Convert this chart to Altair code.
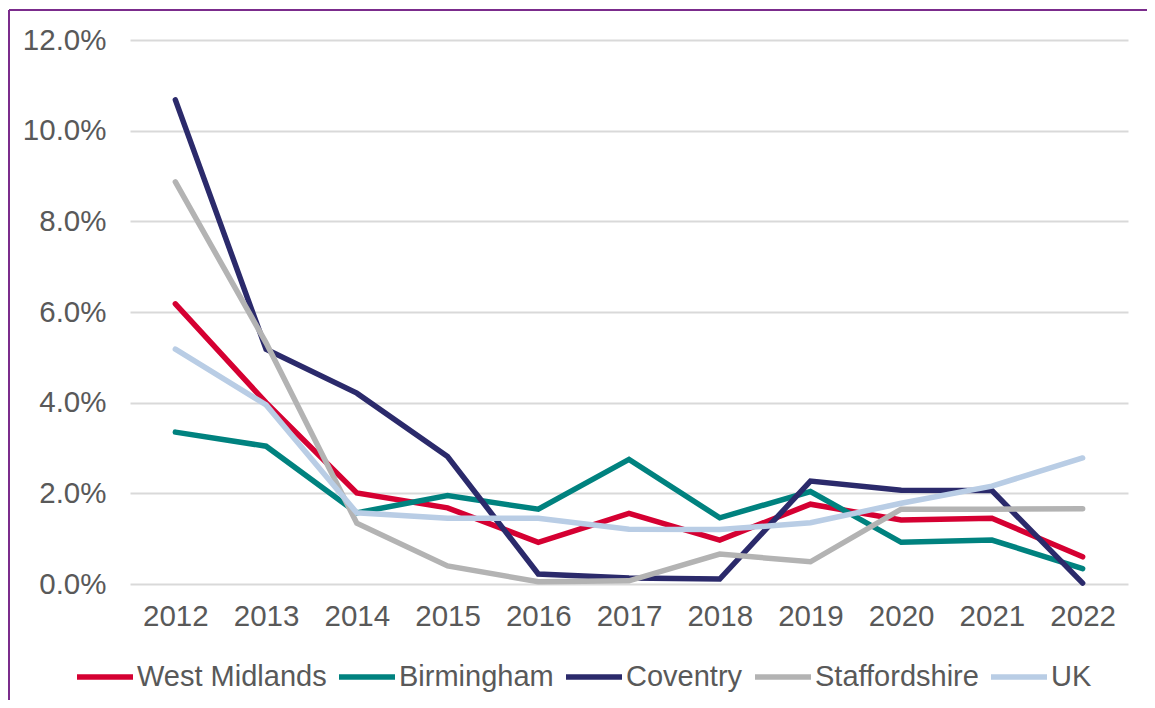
import altair as alt
import pandas as pd

years = [str(y) for y in range(2012, 2023)]
series_names = ["West Midlands", "Birmingham", "Coventry", "Staffordshire", "UK"]
series_colors = ["#D50032", "#00827F", "#2B2A6B", "#B3B3B3", "#B9CDE5"]
west_midlands = [6.18, 4.00, 2.01, 1.68, 0.92, 1.56, 0.97, 1.76, 1.41, 1.45, 0.60]
birmingham = [3.35, 3.04, 1.57, 1.95, 1.65, 2.75, 1.46, 2.04, 0.92, 0.97, 0.34]
coventry = [10.68, 5.18, 4.21, 2.81, 0.22, 0.13, 0.11, 2.27, 2.07, 2.06, 0.02]
staffordshire = [8.87, 5.32, 1.34, 0.40, 0.05, 0.07, 0.66, 0.49, 1.65, 1.65, 1.66]
uk = [5.18, 3.95, 1.57, 1.45, 1.45, 1.21, 1.20, 1.35, 1.78, 2.16, 2.78]
y_ticks = [0, 0.02, 0.04, 0.06, 0.08, 0.10, 0.12]

rows = []
for name, vals in zip(series_names, [west_midlands, birmingham, coventry, staffordshire, uk]):
    for yr, v in zip(years, vals):
        rows.append({"Year": yr, "Series": name, "Value": v / 100})
df = pd.DataFrame(rows)

FONT = "Liberation Sans"
LABEL = "#595959"
FS = 29.5
LFS = 29

lines = alt.Chart(df).mark_line(strokeWidth=5.5, strokeCap="round").encode(
    x=alt.X("Year:N", sort=years, title=None,
            scale=alt.Scale(type="point", padding=0.5),
            axis=alt.Axis(labelAngle=0, labelFontSize=FS, labelColor=LABEL, labelFont=FONT,
                          ticks=False, tickSize=0, domain=False, grid=False, labelPadding=18)),
    y=alt.Y("Value:Q", title=None,
            scale=alt.Scale(domain=[0, 0.12], nice=False),
            axis=alt.Axis(values=y_ticks, format=".1%", labelFontSize=FS, labelColor=LABEL,
                          labelFont=FONT, ticks=False, tickSize=0, domain=False,
                          gridColor="#D9D9D9", gridWidth=2, labelPadding=24)),
    color=alt.Color("Series:N", sort=series_names,
                    scale=alt.Scale(domain=series_names, range=series_colors),
                    legend=alt.Legend(title=None, orient="none", legendX=-56, legendY=606,
                                      direction="horizontal", symbolType="stroke",
                                      symbolSize=3136, symbolStrokeWidth=5.5,
                                      labelFontSize=LFS, labelFont=FONT, labelColor=LABEL,
                                      labelOffset=1, columnPadding=1, padding=0,
                                      labelLimit=400)),
)

border_top = alt.Chart(pd.DataFrame({"a": [0]})).mark_rule(color="#7B2C8C", strokeWidth=2).encode(
    x=alt.value(-121), x2=alt.value(1030), y=alt.value(-30))
border_left = alt.Chart(pd.DataFrame({"a": [0]})).mark_rule(color="#7B2C8C", strokeWidth=2).encode(
    x=alt.value(-121), y=alt.value(-30), y2=alt.value(680))

chart = alt.layer(lines, border_top, border_left).properties(
    width=998, height=544,
    autosize=alt.AutoSizeParams(type="none"),
    padding={"left": 122, "top": 32, "right": 19, "bottom": 116},
).configure_view(stroke=None)

chart.save("out.html", embed_options={"renderer": "svg", "actions": False})
